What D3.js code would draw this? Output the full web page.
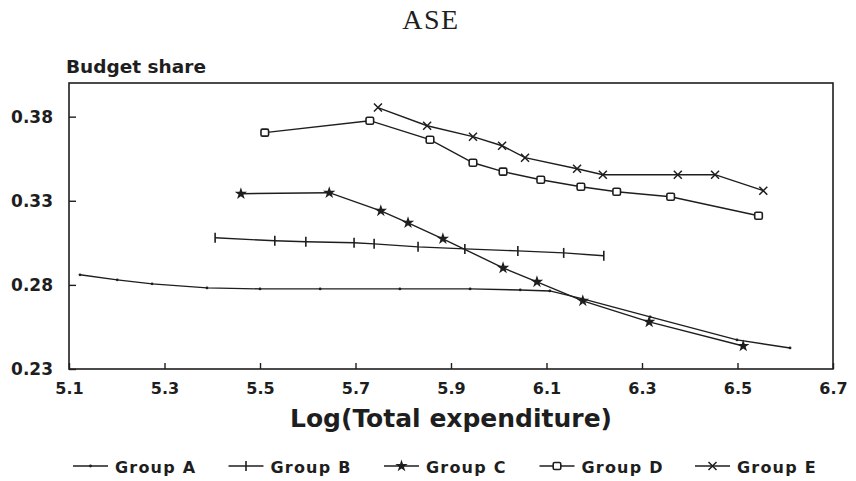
<!DOCTYPE html>
<html>
<head>
<meta charset="utf-8">
<script src="https://cdn.jsdelivr.net/npm/d3@7"></script>
<style>
  html, body { margin: 0; padding: 0; background: #fff; }
  svg { display: block; }
</style>
</head>
<body>
<svg id="chart" width="856" height="481"></svg>
<script>
// ---- Data ----
const seriesNames = ["Group A", "Group B", "Group C", "Group D", "Group E"];

const groupA_x = [5.123, 5.201, 5.274, 5.389, 5.500, 5.626, 5.793, 5.940, 6.045, 6.107, 6.176, 6.317, 6.499, 6.610];
const groupA_y = [0.2860, 0.2830, 0.2806, 0.2782, 0.2776, 0.2776, 0.2776, 0.2776, 0.2770, 0.2764, 0.2717, 0.2610, 0.2473, 0.2425];

const groupB_x = [5.406, 5.531, 5.596, 5.697, 5.739, 5.831, 5.929, 6.040, 6.136, 6.220];
const groupB_y = [0.3080, 0.3062, 0.3056, 0.3050, 0.3044, 0.3026, 0.3014, 0.3002, 0.2990, 0.2973];

const groupC_x = [5.460, 5.645, 5.753, 5.810, 5.883, 6.009, 6.080, 6.176, 6.315, 6.512];
const groupC_y = [0.3342, 0.3348, 0.3240, 0.3169, 0.3074, 0.2901, 0.2818, 0.2705, 0.2580, 0.2437];

const groupD_x = [5.510, 5.730, 5.856, 5.946, 6.009, 6.088, 6.172, 6.247, 6.360, 6.544];
const groupD_y = [0.3705, 0.3776, 0.3663, 0.3526, 0.3473, 0.3425, 0.3383, 0.3354, 0.3324, 0.3211];

const groupE_x = [5.747, 5.850, 5.946, 6.007, 6.055, 6.164, 6.218, 6.375, 6.453, 6.554];
const groupE_y = [0.3854, 0.3746, 0.3681, 0.3627, 0.3556, 0.3490, 0.3455, 0.3455, 0.3455, 0.3360];

const xTicks = [5.1, 5.3, 5.5, 5.7, 5.9, 6.1, 6.3, 6.5, 6.7];
const yTicks = [0.23, 0.28, 0.33, 0.38];

const titleText = "ASE";
const yAxisTitle = "Budget share";
const xAxisTitle = "Log(Total expenditure)";

// ---- Build series ----
const xs = [groupA_x, groupB_x, groupC_x, groupD_x, groupE_x];
const ys = [groupA_y, groupB_y, groupC_y, groupD_y, groupE_y];
const markerTypes = ["dot", "vtick", "star", "square", "cross"];
const series = seriesNames.map((name, i) => ({
  name, marker: markerTypes[i],
  points: xs[i].map((x, j) => ({ x, y: ys[i][j] }))
}));

// ---- Layout ----
const svg = d3.select("#chart");
const ink = "#1e1e1e";
const m = { left: 69, right: 833, top: 83, bottom: 369 };

const x = d3.scaleLinear().domain([5.1, 6.7]).range([m.left, m.right]);
const y = d3.scaleLinear().domain([0.23, 0.40]).range([m.bottom, m.top]);

// Title
svg.append("text")
  .attr("x", 431).attr("y", 29)
  .attr("text-anchor", "middle")
  .attr("font-family", "'Liberation Serif', 'DejaVu Serif', serif")
  .attr("font-size", 28)
  .attr("letter-spacing", 1.5)
  .attr("fill", ink)
  .text(titleText);

// Y axis title
svg.append("text")
  .attr("x", 66).attr("y", 73)
  .attr("font-family", "'DejaVu Sans', sans-serif")
  .attr("font-weight", "bold")
  .attr("font-size", 18.5)
  .attr("fill", ink)
  .text(yAxisTitle);

// Frame
svg.append("rect")
  .attr("x", m.left).attr("y", m.top)
  .attr("width", m.right - m.left).attr("height", m.bottom - m.top)
  .attr("fill", "none").attr("stroke", ink).attr("stroke-width", 1.6);

// Axes using d3 axis generators (inward ticks)
const font = "'DejaVu Sans', sans-serif";
const xAxis = d3.axisBottom(x).tickValues(xTicks).tickSize(-6).tickPadding(14)
  .tickFormat(d3.format(".1f"));
const gx = svg.append("g").attr("transform", `translate(0,${m.bottom})`).call(xAxis);
gx.select(".domain").remove();
gx.selectAll(".tick line").attr("stroke", ink).attr("stroke-width", 1.4);
gx.selectAll(".tick text")
  .attr("font-family", font).attr("font-weight", "bold").attr("font-size", 16)
  .attr("fill", ink);

const yAxis = d3.axisLeft(y).tickValues(yTicks).tickSize(-7).tickPadding(16)
  .tickFormat(d3.format(".2f"));
const gy = svg.append("g").attr("transform", `translate(${m.left},0)`).call(yAxis);
gy.select(".domain").remove();
gy.selectAll(".tick line").attr("stroke", ink).attr("stroke-width", 1.4);
gy.selectAll(".tick text")
  .attr("font-family", font).attr("font-weight", "bold").attr("font-size", 17)
  .attr("fill", ink);

// X axis title
svg.append("text")
  .attr("x", 451).attr("y", 427)
  .attr("text-anchor", "middle")
  .attr("font-family", font).attr("font-weight", "bold")
  .attr("font-size", 25)
  .attr("fill", ink)
  .text(xAxisTitle);

// Marker drawing
function drawMarker(g, type, cx, cy) {
  if (type === "dot") {
    g.append("circle").attr("cx", cx).attr("cy", cy).attr("r", 1.4).attr("fill", ink);
  } else if (type === "vtick") {
    g.append("line").attr("x1", cx).attr("x2", cx).attr("y1", cy - 5).attr("y2", cy + 5)
      .attr("stroke", ink).attr("stroke-width", 1.6);
  } else if (type === "star") {
    g.append("path").attr("d", d3.symbol().type(d3.symbolStar).size(48)())
      .attr("transform", `translate(${cx},${cy})`).attr("fill", ink);
  } else if (type === "square") {
    g.append("rect").attr("x", cx - 3.8).attr("y", cy - 3.5).attr("width", 7.6).attr("height", 7)
      .attr("rx", 1.5).attr("fill", "#fff").attr("stroke", ink).attr("stroke-width", 1.6);
  } else if (type === "cross") {
    const s = 4;
    g.append("path")
      .attr("d", `M${cx - s},${cy - s}L${cx + s},${cy + s}M${cx - s},${cy + s}L${cx + s},${cy - s}`)
      .attr("stroke", ink).attr("stroke-width", 1.5).attr("fill", "none");
  }
}

// Lines
const line = d3.line().x(d => x(d.x)).y(d => y(d.y));
const plot = svg.append("g");
series.forEach(s => {
  plot.append("path").datum(s.points).attr("d", line)
    .attr("fill", "none").attr("stroke", ink).attr("stroke-width", 1.4);
});
series.forEach(s => {
  const g = plot.append("g");
  s.points.forEach(p => drawMarker(g, s.marker, x(p.x), y(p.y)));
});

// Legend
const legendY = 466;
series.forEach((s, i) => {
  const lx = 73 + i * 155.5;
  const g = svg.append("g");
  g.append("line").attr("x1", lx).attr("x2", lx + 35).attr("y1", legendY).attr("y2", legendY)
    .attr("stroke", ink).attr("stroke-width", 1.3);
  drawMarker(g, s.marker, lx + 17.5, legendY);
  g.append("text")
    .attr("x", lx + 42).attr("y", legendY + 7)
    .attr("font-family", font).attr("font-weight", "bold").attr("font-size", 16)
    .attr("letter-spacing", 1.2)
    .attr("fill", ink)
    .text(s.name);
});
</script>
</body>
</html>
